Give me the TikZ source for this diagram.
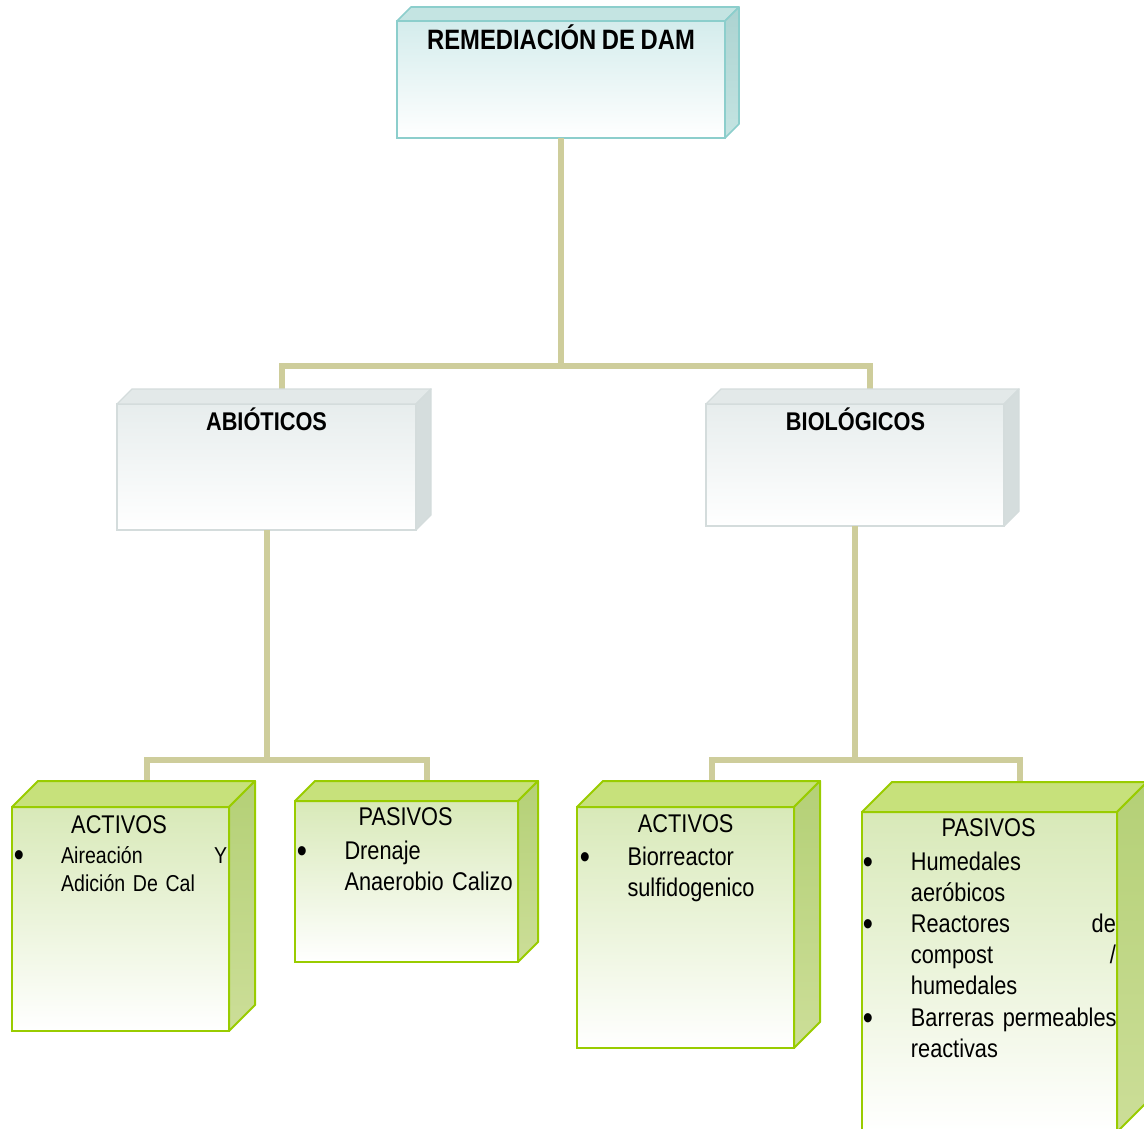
\documentclass[tikz,border=0pt]{standalone}
\usepackage{fontspec}
\setmainfont{Liberation Sans}[FakeStretch=0.85,WordSpace=0.85]
\usetikzlibrary{calc}
\usepackage{xcolor}

\definecolor{linkcol}{RGB}{206,205,155}
\definecolor{remEdge}{RGB}{140,206,204}
\definecolor{remFront}{RGB}{212,236,236}
\definecolor{remTop}{RGB}{196,228,226}
\definecolor{remSide}{RGB}{172,211,209}
\definecolor{midEdge}{RGB}{212,220,220}
\definecolor{midFront}{RGB}{231,237,237}
\definecolor{midTop}{RGB}{227,233,233}
\definecolor{midSide}{RGB}{213,221,221}
\definecolor{leafEdge}{RGB}{153,204,0}
\definecolor{leafFront}{RGB}{216,233,184}
\definecolor{leafMid}{RGB}{236,244,222}
\definecolor{leafTop}{RGB}{199,225,123}
\definecolor{leafSide}{RGB}{180,208,118}
\definecolor{leafSideLow}{RGB}{204,222,152}

% top and right faces of a box: node, depth, family
\newcommand{\boxdepth}[3]{%
  \path[#3top] (#1.north west) -- ++(#2,-#2) -- ($(#1.north east)+(#2,-#2)$) -- (#1.north east) -- cycle;
  \path[#3side] (#1.north east) -- ++(#2,-#2) -- ($(#1.south east)+(#2,-#2)$) -- (#1.south east) -- cycle;
}

\begin{document}
\begin{tikzpicture}[x=1pt,y=-1pt,
  box/.style={rectangle,draw,inner sep=0pt,outer sep=0pt},
  rembox/.style={box,draw=remEdge,line width=1.6pt,top color=remFront,bottom color=white},
  midbox/.style={box,draw=midEdge,line width=1.4pt,top color=midFront,bottom color=white},
  leafbox/.style={box,draw=leafEdge,line width=2pt,top color=leafFront,middle color=leafMid,bottom color=white},
  remtop/.style={fill=remTop,draw=remEdge,line width=1.6pt,line join=round},
  remside/.style={top color=remSide,bottom color=remTop,draw=remEdge,line width=1.6pt,line join=round},
  midtop/.style={fill=midTop,draw=midEdge,line width=1.4pt,line join=round},
  midside/.style={fill=midSide,draw=midEdge,line width=1.4pt,line join=round},
  leaftop/.style={fill=leafTop,draw=leafEdge,line width=2pt,line join=round},
  leafside/.style={top color=leafSide,bottom color=leafSideLow,draw=leafEdge,line width=2pt,line join=round},
  link/.style={draw=linkcol,line width=6pt},
  head/.style={font=\bfseries\fontsize{25.6}{30}\selectfont,anchor=base},
  sub/.style={font=\fontsize{25.6}{31}\selectfont,anchor=base},
  item/.style={font=\fontsize{25.6}{31}\selectfont,anchor=base west,align=left,inner sep=0pt,text width=225},
  dot/.style={font=\fontsize{34}{34}\selectfont,anchor=base,inner sep=0pt}]
  \useasboundingbox (0,0) rectangle (1144,1129);
  \clip (0,0) rectangle (1144,1129);

  % Boxes
  \node (rem) [rembox, minimum width=328, minimum height=117] at (561, 79.5) {};
  \node (abio) [midbox, minimum width=299, minimum height=126] at (266.5, 467) {};
  \node (bio) [midbox, minimum width=298, minimum height=122] at (855, 465) {};
  \node (actl) [leafbox, minimum width=217, minimum height=224] at (120.5, 919) {};
  \node (pasl) [leafbox, minimum width=223, minimum height=161] at (406.5, 881.5) {};
  \node (actr) [leafbox, minimum width=217, minimum height=241] at (685.5, 927.5) {};
  \node (pasr) [leafbox, minimum width=255, minimum height=320] at (989.5, 972) {};

  % Links
  \draw[link] (rem.south) -- ++(0,228) -| ($(abio.north)+(15,-15)$);
  \draw[link] (rem.south) -- ++(0,228) -| ($(bio.north)+(15,-15)$);
  \draw[link] (abio.south) -- ++(0,229.5) -| ($(actl.north)+(26,-26)$);
  \draw[link] (abio.south) -- ++(0,229.5) -| ($(pasl.north)+(20,-20)$);
  \draw[link] (bio.south) -- ++(0,233.5) -| ($(actr.north)+(26,-26)$);
  \draw[link] (bio.south) -- ++(0,233.5) -| ($(pasr.north)+(30,-30)$);

  \boxdepth{rem}{14}{rem}
  \boxdepth{abio}{15}{mid}
  \boxdepth{bio}{15}{mid}
  \boxdepth{actl}{26}{leaf}
  \boxdepth{pasl}{20}{leaf}
  \boxdepth{actr}{26}{leaf}
  \boxdepth{pasr}{30}{leaf}

  % Headers
  \node (remtxt) [head, font=\bfseries\fontsize{28}{32}\selectfont] at (561, 50) {REMEDIACIÓN DE DAM};
  \node (abiotxt) [head] at (266.5, 430) {ABIÓTICOS};
  \node (biotxt) [head] at (855.5, 430) {BIOLÓGICOS};
  \node (actltxt) [sub] at (119, 833) {ACTIVOS};
  \node (pasltxt) [sub] at (405.7, 825) {PASIVOS};
  \node (actrtxt) [sub] at (685.7, 832.7) {ACTIVOS};
  \node (pasrtxt) [sub] at (988.7, 836.7) {PASIVOS};

  % Items
  \node (actldot) [dot] at (19, 866) {\textbullet};
  \node (actlitem) [item, font=\fontsize{23}{28}\selectfont, text width=166] at (61, 863) {Aireación\hfill Y\\Adición De Cal};
  \node (pasldot) [dot] at (302, 862) {\textbullet};
  \node (paslitem) [item] at (344.3, 859) {Drenaje\\Anaerobio Calizo};
  \node (actrdot) [dot] at (585, 868) {\textbullet};
  \node (actritem) [item] at (627.3, 865) {Biorreactor\\sulfidogenico};
  \node (pasrdota) [dot] at (868, 873) {\textbullet};
  \node (pasritema) [item] at (910.7, 870) {Humedales\\aeróbicos};
  \node (pasrdotb) [dot] at (868, 935.7) {\textbullet};
  \node (pasritemb) [item, text width=205] at (910.7, 932.7) {Reactores\hfill de\\compost\hfill /\\humedales};
  \node (pasrdotc) [dot] at (868, 1029.7) {\textbullet};
  \node (pasritemc) [item] at (910.7, 1026.7) {Barreras permeables\\reactivas};
\end{tikzpicture}
\end{document}
